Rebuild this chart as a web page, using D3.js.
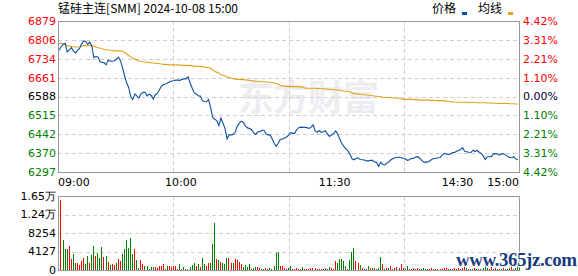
<!DOCTYPE html>
<html>
<head>
<meta charset="utf-8">
<script src="https://cdn.jsdelivr.net/npm/d3@7"></script>
<style>
  body { margin: 0; background: #fff; }
  text { font-family: "DejaVu Sans", sans-serif; font-size: 11px; }
</style>
</head>
<body>
<script>
// axis labels
var prevSettle = 6588;
var priceTicks = [6879, 6806, 6734, 6661, 6588, 6515, 6442, 6370, 6297];
var pctTicks = ["4.42%", "3.31%", "2.21%", "1.10%", "0.00%", "1.10%", "2.21%", "3.31%", "4.42%"];
var volTicks = [0, 4127, 8254, 12381, 16508];
var volTickLabels = ["0", "4127", "8254", "1.24万", "1.65万"];
var timeLabels = ["09:00", "10:00", "11:30", "14:30", "15:00"];
var timeIndex = [0, 60, 135, 195, 225];

// one value per trading minute (225 minutes)
var price = [
  6766, 6780, 6790, 6793, 6760, 6768, 6776, 6764, 6756, 6766,
  6772, 6790, 6802, 6800, 6789, 6798, 6783, 6738, 6742, 6740,
  6722, 6720, 6718, 6710, 6728, 6724, 6724, 6726, 6732, 6740,
  6726, 6698, 6668, 6640, 6623, 6588, 6576, 6598, 6590, 6582,
  6598, 6604, 6604, 6590, 6598, 6592, 6578, 6595, 6600, 6614,
  6628, 6634, 6636, 6640, 6645, 6648, 6649, 6651, 6651, 6650,
  6654, 6656, 6656, 6664, 6640, 6620, 6602, 6598, 6590, 6590,
  6572, 6569, 6568, 6576, 6545, 6508, 6500, 6495, 6476, 6505,
  6485, 6465, 6425, 6440, 6440, 6442, 6450, 6474, 6485, 6493,
  6488, 6474, 6467, 6465, 6460, 6448, 6442, 6452, 6452, 6458,
  6458, 6444, 6440, 6440, 6425, 6408, 6396, 6408, 6423, 6423,
  6428, 6431, 6439, 6449, 6446, 6446, 6460, 6468, 6470, 6469,
  6469, 6468, 6465, 6470, 6479, 6456, 6450, 6457, 6450, 6452,
  6456, 6444, 6434, 6440, 6444, 6455, 6444, 6425, 6407, 6396,
  6387, 6378, 6366, 6348, 6344, 6350, 6352, 6345, 6344, 6343,
  6340, 6340, 6342, 6342, 6336, 6334, 6318, 6335, 6326, 6324,
  6332, 6336, 6344, 6349, 6352, 6354, 6354, 6352, 6350, 6347,
  6342, 6344, 6350, 6349, 6355, 6356, 6350, 6342, 6336, 6334,
  6336, 6340, 6346, 6349, 6350, 6352, 6353, 6362, 6369, 6366,
  6365, 6366, 6372, 6372, 6377, 6380, 6384, 6390, 6377, 6375,
  6373, 6372, 6381, 6376, 6380, 6374, 6369, 6360, 6345, 6356,
  6356, 6356, 6367, 6367, 6367, 6362, 6367, 6367, 6363, 6357,
  6353, 6352, 6356, 6347, 6345
];

var avgPrice = [
  6792, 6792, 6790, 6788, 6784, 6782, 6781, 6780, 6779, 6779,
  6780, 6782, 6784, 6784, 6784, 6784, 6784, 6782, 6779, 6776,
  6775, 6772, 6769, 6768, 6767, 6766, 6765, 6764, 6764, 6764,
  6764, 6762, 6758, 6752, 6746, 6740, 6735, 6732, 6729, 6725,
  6724, 6722, 6721, 6720, 6719, 6718, 6717, 6716, 6715, 6714,
  6713, 6712, 6712, 6711, 6710, 6710, 6710, 6710, 6710, 6709,
  6709, 6708, 6708, 6707, 6707, 6706, 6705, 6705, 6704, 6703,
  6703, 6702, 6700, 6700, 6696, 6690, 6684, 6682, 6679, 6673,
  6670, 6667, 6664, 6661, 6659, 6657, 6655, 6654, 6654, 6653,
  6653, 6652, 6651, 6650, 6649, 6648, 6647, 6646, 6645, 6645,
  6645, 6644, 6644, 6643, 6642, 6640, 6638, 6635, 6631, 6628,
  6628, 6627, 6627, 6626, 6626, 6626, 6626, 6626, 6625, 6625,
  6621, 6620, 6620, 6620, 6620, 6620, 6619, 6619, 6618, 6618,
  6617, 6617, 6616, 6615, 6614, 6614, 6613, 6611, 6610, 6609,
  6608, 6607, 6606, 6602, 6599, 6598, 6597, 6596, 6595, 6595,
  6594, 6593, 6592, 6591, 6590, 6589, 6588, 6587, 6585, 6584,
  6584, 6583, 6583, 6582, 6582, 6582, 6580, 6579, 6578, 6577,
  6577, 6577, 6577, 6576, 6576, 6575, 6575, 6574, 6574, 6574,
  6574, 6573, 6573, 6573, 6573, 6572, 6572, 6572, 6571, 6570,
  6569, 6568, 6567, 6567, 6566, 6566, 6566, 6566, 6566, 6566,
  6565, 6565, 6565, 6565, 6564, 6564, 6564, 6564, 6564, 6563,
  6563, 6563, 6562, 6562, 6561, 6561, 6561, 6561, 6561, 6561,
  6560, 6560, 6560, 6559, 6559
];

var volume = [
  15586, 6647, 4737, 4737, 5272, 2521, 3667, 1604, 1604, 1222,
  1986, 2750, 1375, 3209, 1604, 3438, 5272, 3209, 3896, 2750,
  5042, 2980, 3209, 1834, 1146, 1375, 1146, 1604, 2521, 2063,
  3667, 4584, 6647, 4813, 7105, 3667, 4584, 2292, 458, 2292,
  1375, 917, 917, 229, 688, 688, 688, 458, 917, 917,
  1375, 229, 917, 917, 688, 917, 917, 229, 1375, 229,
  688, 229, 229, 688, 1146, 1604, 917, 1375, 688, 2750,
  1375, 917, 1604, 1604, 5730, 10543, 2521, 2292, 1834, 1604,
  1375, 2750, 2750, 1604, 1604, 2521, 2292, 1834, 1375, 688,
  1146, 688, 1375, 229, 458, 688, 688, 458, 229, 229,
  458, 229, 458, 229, 917, 3896, 4125, 917, 917, 458,
  229, 458, 917, 229, 229, 458, 229, 229, 688, 229,
  229, 229, 458, 458, 458, 229, 229, 229, 229, 458,
  229, 688, 458, 229, 2063, 1604, 2521, 2521, 2063, 917,
  229, 2292, 4125, 4813, 2063, 1604, 1146, 458, 229, 229,
  917, 458, 458, 458, 229, 458, 2980, 1375, 229, 458,
  458, 917, 229, 458, 688, 458, 1375, 458, 229, 917,
  229, 229, 458, 229, 458, 229, 229, 458, 229, 229,
  229, 458, 229, 229, 229, 229, 229, 458, 458, 229,
  229, 229, 458, 229, 458, 229, 458, 688, 458, 229,
  229, 229, 458, 229, 229, 229, 458, 1604, 458, 229,
  688, 229, 458, 229, 229, 229, 458, 229, 229, 458,
  917, 229, 458, 1146, 458
];

// 1 = traded up (red), -1 = traded down (green)
var volDir = [
  1, -1, -1, -1, 1, 1, -1, -1, 1, 1,
  1, 1, -1, -1, 1, -1, -1, 1, -1, -1,
  -1, 1, -1, 1, -1, 1, 1, -1, 1, 1,
  -1, -1, -1, -1, -1, -1, 1, -1, -1, 1,
  1, -1, -1, 1, -1, -1, 1, 1, 1, 1,
  1, 1, -1, 1, 1, 1, 1, 1, -1, 1,
  -1, 1, -1, -1, -1, -1, 1, -1, 1, -1,
  -1, 1, 1, -1, -1, -1, 1, -1, 1, -1,
  -1, -1, 1, 1, -1, 1, 1, 1, 1, -1,
  -1, -1, -1, 1, -1, -1, 1, 1, -1, -1,
  1, 1, -1, -1, -1, -1, -1, 1, 1, 1,
  1, -1, -1, 1, 1, 1, 1, 1, -1, 1,
  1, 1, 1, 1, -1, 1, 1, 1, 1, -1,
  1, -1, 1, 1, 1, -1, -1, -1, -1, -1,
  1, -1, -1, -1, 1, 1, -1, 1, -1, 1,
  -1, 1, -1, 1, -1, -1, -1, 1, -1, 1,
  -1, 1, -1, 1, 1, -1, 1, 1, -1, -1,
  1, -1, 1, -1, 1, 1, -1, -1, -1, -1,
  1, 1, 1, 1, -1, 1, 1, 1, 1, -1,
  1, -1, 1, 1, 1, 1, 1, 1, -1, -1,
  -1, 1, 1, -1, 1, -1, -1, -1, -1, 1,
  1, -1, 1, -1, 1, -1, 1, -1, -1, -1,
  1, 1, -1, -1, -1
];

var W = 578, H = 276;
var left = 58, right = 519;
var pTop = 21, pBottom = 172;
var vTop = 196, vBottom = 270;

var red = "#ff0000", green = "#008000";

var svg = d3.select("body").append("svg")
    .attr("width", W)
    .attr("height", H);

// scales
var x = d3.scaleLinear().domain([0, 225]).range([left, right]);
var y = d3.scaleLinear().domain([6297, 6879]).range([pBottom, pTop]);
var yv = d3.scaleLinear().domain([0, 16508]).range([vBottom, vTop]);

function colorFor(p) {
    if (p > prevSettle) return red;
    if (p < prevSettle) return green;
    return "#000";
}

// watermark
svg.append("text")
    .attr("x", 238).attr("y", 111)
    .style("font-family", "Noto Sans CJK SC")
    .style("font-size", "36px")
    .style("font-weight", "bold")
    .style("letter-spacing", "-1px")
    .attr("fill", "#ededf1")
    .text("东方财富");

// grid for both panels
function grid(top, bottom, ys) {
    var g = svg.append("g")
        .attr("stroke", "#cfcfcf")
        .attr("stroke-dasharray", "4,3");
    ys.forEach(function (v) {
        g.append("line")
            .attr("x1", left).attr("x2", right)
            .attr("y1", Math.round(v) + 0.5).attr("y2", Math.round(v) + 0.5);
    });
    [1, 2, 3].forEach(function (k) {
        var gx = Math.round(left + (right - left) * k / 4) + 0.5;
        g.append("line")
            .attr("x1", gx).attr("x2", gx)
            .attr("y1", top).attr("y2", bottom);
    });
    svg.append("rect")
        .attr("x", left + 0.5).attr("y", top + 0.5)
        .attr("width", right - left).attr("height", bottom - top)
        .attr("fill", "none")
        .attr("stroke", "#999");
}

grid(pTop, pBottom, priceTicks.slice(1, -1).map(function (d) { return y(d); }));
grid(vTop, vBottom, volTicks.slice(1, -1).map(function (d) { return yv(d); }));

// left price labels
svg.append("g").selectAll("text")
    .data(priceTicks)
    .enter().append("text")
    .attr("x", left - 2)
    .attr("y", function (d) { return y(d); })
    .attr("dy", "0.36em")
    .attr("text-anchor", "end")
    .attr("fill", function (d) { return colorFor(d); })
    .text(function (d) { return d; });

// right percent labels
svg.append("g").selectAll("text")
    .data(pctTicks)
    .enter().append("text")
    .attr("x", right + 4)
    .attr("y", function (d, i) { return y(priceTicks[i]); })
    .attr("dy", "0.36em")
    .attr("fill", function (d, i) { return priceTicks[i] == prevSettle ? "#000033" : colorFor(priceTicks[i]); })
    .text(function (d) { return d; });

// time labels
svg.append("g").selectAll("text")
    .data(timeLabels)
    .enter().append("text")
    .attr("x", function (d, i) { return x(timeIndex[i]); })
    .attr("y", 186)
    .attr("text-anchor", function (d, i) {
        if (i == 0) return "start";
        if (i == timeLabels.length - 1) return "end";
        return "middle";
    })
    .attr("fill", "#000")
    .text(function (d) { return d; });

// volume labels
svg.append("g").selectAll("text")
    .data(volTicks)
    .enter().append("text")
    .attr("x", left - 2)
    .attr("y", function (d) { return yv(d); })
    .attr("dy", "0.36em")
    .attr("text-anchor", "end")
    .attr("fill", "#000")
    .text(function (d, i) { return volTickLabels[i]; });

// average line
svg.append("path")
    .datum(avgPrice)
    .attr("fill", "none")
    .attr("stroke", "#e0a21e")
    .attr("stroke-width", 1.1)
    .attr("d", d3.line()
        .x(function (d, i) { return x(i + 0.5); })
        .y(function (d) { return y(d); }));

// price line
svg.append("path")
    .datum(price)
    .attr("fill", "none")
    .attr("stroke", "#0d4f9f")
    .attr("stroke-width", 1.1)
    .attr("d", d3.line()
        .x(function (d, i) { return x(i + 0.5); })
        .y(function (d) { return y(d); }));

// volume bars
svg.append("g").selectAll("rect")
    .data(volume)
    .enter().append("rect")
    .attr("x", function (d, i) { return Math.round(x(i + 1.2)); })
    .attr("y", function (d) { return Math.round(yv(d)); })
    .attr("width", 1)
    .attr("height", function (d) { return vBottom - Math.round(yv(d)); })
    .attr("fill", function (d, i) { return volDir[i] > 0 ? red : green; });

// title
svg.append("text")
    .attr("x", left).attr("y", 13)
    .attr("textLength", 180)
    .style("font-family", "Noto Sans CJK SC")
    .style("font-size", "12px")
    .attr("fill", "#000")
    .text("锰硅主连[SMM] 2024-10-08 15:00");

// legend
svg.append("text")
    .attr("x", 432).attr("y", 13)
    .style("font-family", "Noto Sans CJK SC")
    .style("font-size", "12px")
    .text("价格");
svg.append("rect")
    .attr("x", 462).attr("y", 12).attr("width", 5).attr("height", 3)
    .attr("fill", "#0d4f9f");
svg.append("text")
    .attr("x", 478).attr("y", 13)
    .style("font-family", "Noto Sans CJK SC")
    .style("font-size", "12px")
    .text("均线");
svg.append("rect")
    .attr("x", 508).attr("y", 12).attr("width", 5).attr("height", 3)
    .attr("fill", "#e0a21e");

// site mark bottom right
svg.append("text")
    .attr("x", 456).attr("y", 266)
    .attr("textLength", 121)
    .style("font-family", "Liberation Serif")
    .style("font-size", "19px")
    .style("font-weight", "bold")
    .attr("fill", "#1b3c7c")
    .attr("stroke", "#fff")
    .attr("stroke-width", 2)
    .attr("paint-order", "stroke")
    .text("www.365jz.com");
</script>
</body>
</html>
